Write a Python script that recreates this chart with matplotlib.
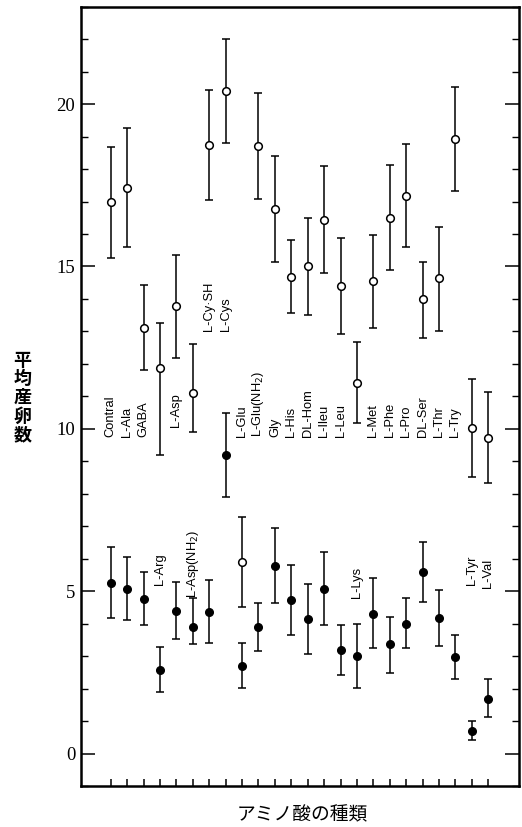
#Mean number of eggs laid for each amino acid, open and filled series with error bars
import numpy as np
import matplotlib
matplotlib.use('Agg')
import matplotlib.pyplot as plt
from matplotlib.ticker import MultipleLocator

plt.rcParams['mathtext.fontset'] = 'custom'
plt.rcParams['mathtext.rm'] = 'Liberation Sans Narrow'

#categories (x axis) and where each name sits (bottom of the rotated text, in data units)
amino = ['Contral', 'L-Ala', 'GABA', 'L-Arg', 'L-Asp', 'L-Asp(NH$_2$)', 'L-Cy·SH', 'L-Cys',
         'L-Glu', 'L-Glu(NH$_2$)', 'Gly', 'L-His', 'DL-Hom', 'L-Ileu', 'L-Leu', 'L-Lys',
         'L-Met', 'L-Phe', 'L-Pro', 'DL-Ser', 'L-Thr', 'L-Try', 'L-Tyr', 'L-Val']
label_y = [9.75, 9.75, 9.75, 5.2, 10.05, 4.8, 13.0, 13.0,
           9.75, 9.75, 9.75, 9.75, 9.75, 9.75, 9.75, 4.8,
           9.75, 9.75, 9.75, 9.75, 9.75, 9.75, 5.2, 5.1]

#open circles: mean, lower end and upper end of the error bar
open_mean = [16.97, 17.43, 13.10, 11.88, 13.78, 11.11, 18.75, 20.39, 5.89, 18.72, 16.76, 14.69,
             15.00, 16.43, 14.40, 11.42, 14.55, 16.49, 17.17, 13.99, 14.64, 18.92, 10.02, 9.73]
open_low = [15.25, 15.61, 11.81, 9.19, 12.19, 9.91, 17.05, 18.80, 4.50, 17.08, 15.15, 13.58,
            13.51, 14.79, 12.91, 10.17, 13.12, 14.89, 15.61, 12.81, 13.01, 17.33, 8.52, 8.34]
open_high = [18.69, 19.26, 14.43, 13.25, 15.36, 12.60, 20.44, 22.00, 7.27, 20.34, 18.39, 15.82,
             16.49, 18.10, 15.89, 12.68, 15.97, 18.11, 18.77, 15.13, 16.23, 20.52, 11.53, 11.12]

#filled circles
fill_mean = [5.26, 5.06, 4.77, 2.57, 4.40, 3.90, 4.36, 9.19, 2.70, 3.90, 5.79, 4.72,
             4.13, 5.08, 3.18, 3.00, 4.31, 3.36, 4.00, 5.60, 4.16, 2.96, 0.70, 1.69]
fill_low = [4.18, 4.11, 3.97, 1.90, 3.52, 3.36, 3.39, 7.91, 2.03, 3.16, 4.62, 3.65,
            3.08, 3.97, 2.41, 2.03, 3.24, 2.48, 3.24, 4.67, 3.31, 2.28, 0.41, 1.13]
fill_high = [6.37, 6.06, 5.60, 3.29, 5.27, 4.78, 5.34, 10.48, 3.39, 4.64, 6.96, 5.82,
             5.21, 6.21, 3.95, 3.98, 5.39, 4.21, 4.78, 6.52, 5.03, 3.65, 1.00, 2.31]

x = np.arange(len(amino))
open_mean = np.array(open_mean)
fill_mean = np.array(fill_mean)
open_err = [open_mean - np.array(open_low), np.array(open_high) - open_mean]
fill_err = [fill_mean - np.array(fill_low), np.array(fill_high) - fill_mean]

fig = plt.figure(figsize=(5.22, 8.27), dpi=100)
ax = fig.add_axes([0.1546, 0.0496, 0.8402, 0.9423])

ax.errorbar(x, open_mean, yerr=open_err, fmt='o', color='black', mfc='white', mec='black',
            ms=5.5, mew=1.1, elinewidth=1.1, capsize=2.6, capthick=1.1)
ax.errorbar(x, fill_mean, yerr=fill_err, fmt='o', color='black', mfc='black', mec='black',
            ms=5.5, elinewidth=1.1, capsize=2.6, capthick=1.1)

#names written straight up next to the points
for xi, name, yb in zip(x, amino, label_y):
    ax.text(xi, yb, name, rotation=90, ha='center', va='bottom', fontsize=9.3,
            family=['Liberation Sans Narrow', 'Liberation Sans'])

ax.set_xlim(-1.83, 24.89)
ax.set_ylim(-1.0, 23.0)
ax.set_xticks(x)
ax.set_xticklabels([])
ax.yaxis.set_major_locator(MultipleLocator(5))
ax.yaxis.set_minor_locator(MultipleLocator(1))
ax.tick_params(axis='y', which='major', direction='in', length=10, width=1.1, left=True, right=True,
               labelsize=13.5, pad=4)
ax.tick_params(axis='y', which='minor', direction='in', length=5, width=1.0, left=True, right=True)
ax.tick_params(axis='x', direction='in', length=5, width=1.1)
for lab in ax.get_yticklabels():
    lab.set_family('Liberation Serif')
for sp in ax.spines.values():
    sp.set_linewidth(1.8)

#axis titles in Japanese
fig.text(22.5 / 522, 1 - 397.5 / 827, '平\n均\n産\n卵\n数', ha='center', va='center',
         fontsize=13, fontweight='bold', linespacing=0.97, family=['Noto Sans CJK JP', 'DejaVu Sans'])
fig.text(302 / 522, 1 - 815 / 827, 'アミノ酸の種類', ha='center', va='center',
         fontsize=13.5, family=['Noto Sans CJK JP', 'DejaVu Sans'])

fig.savefig('out.png', dpi=100)
